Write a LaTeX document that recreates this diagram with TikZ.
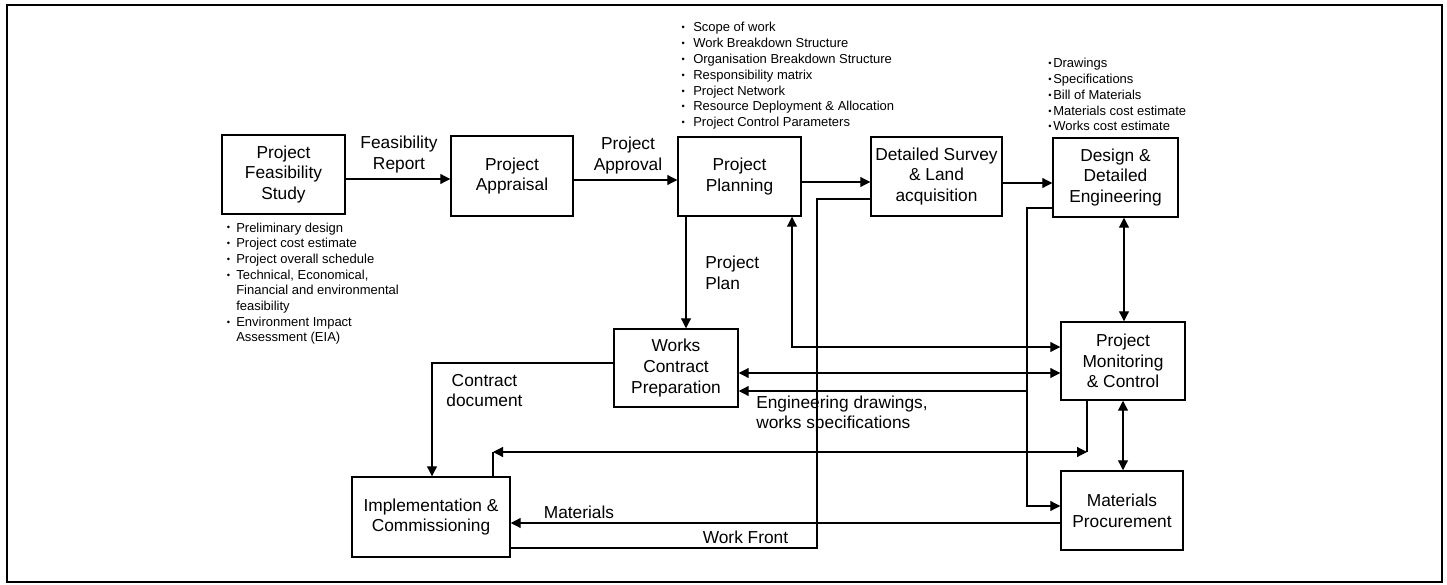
\documentclass[tikz,border=0pt]{standalone}
\usepackage{fontspec}
\setmainfont{Liberation Sans}
\usetikzlibrary{arrows.meta}
\newcommand{\bxfont}{\fontsize{13}{15.5}\selectfont}
\newcommand{\smfont}{\fontsize{9.75}{11.85}\selectfont}
\newcommand{\bul}{\raisebox{0.8pt}{\fontsize{7}{7}\selectfont •}}
\begin{document}
\begin{tikzpicture}[x=0.75pt,y=-0.75pt,
  box/.style={draw,line width=1.1pt,align=center,inner sep=2pt,font=\bxfont},
  lbl/.style={inner sep=0pt,font=\bxfont},
  item/.style={anchor=base west,inner sep=0pt,font=\smfont},
  conn/.style={line width=0.9pt},
  arr/.style={conn,-{Triangle[length=7.5pt,width=7.5pt]}},
  biarr/.style={conn,{Triangle[length=7.5pt,width=7.5pt]}-{Triangle[length=7.5pt,width=7.5pt]}}]
\useasboundingbox (0,0) rectangle (1447,585);
% outer frame
\draw[line width=1.5pt] (7,5) rectangle (1442,582);

% process boxes
\node[box,minimum width=92.25pt,minimum height=59.25pt] (PFS) at (283.5,174.5) {Project\\Feasibility\\Study};
\node[box,minimum width=91.5pt,minimum height=60pt] (PA) at (512,176) {Project\\Appraisal};
\node[box,minimum width=92.25pt,minimum height=59.25pt] (PP) at (739.5,176.5) {Project\\Planning};
\node[box,minimum width=98.25pt,minimum height=59.25pt] (DS) at (936.5,176.5) {Detailed Survey\\\& Land\\acquisition};
\node[box,minimum width=93.75pt,minimum height=59.25pt] (DDE) at (1115.5,177.5) {Design \&\\Detailed\\Engineering};
\node[box,minimum width=93pt,minimum height=58.5pt] (WCP) at (676,368) {Works\\Contract\\Preparation};
\node[box,minimum width=93pt,minimum height=58.5pt] (PMC) at (1123,361) {Project\\Monitoring\\\& Control};
\node[box,minimum width=91.5pt,minimum height=59.25pt] (MP) at (1122,510.5) {Materials\\Procurement};
\node[box,minimum width=118.5pt,minimum height=60pt] (IC) at (431,517) {Implementation \&\\Commissioning};

% bullet lists
\foreach \t [count=\i from 0] in {Scope of work,Work Breakdown Structure,Organisation Breakdown Structure,Responsibility matrix,Project Network,Resource Deployment \& Allocation,Project Control Parameters}
  \node[item] (top\i) at (693,{32+15.8*\i}) {\llap{\bul\hspace{6.2pt}}\t};
\foreach \t [count=\i from 0] in {Drawings,Specifications,Bill of Materials,Materials cost estimate,Works cost estimate}
  \node[item] (des\i) at (1053,{68+15.75*\i}) {\llap{\bul\hspace{1.2pt}}\t};
\node[item] (fs0) at (236,232) {\llap{\bul\hspace{4.6pt}}Preliminary design};
\node[item] (fs1) at (236,247.7) {\llap{\bul\hspace{4.6pt}}Project cost estimate};
\node[item] (fs2) at (236,263.4) {\llap{\bul\hspace{4.6pt}}Project overall schedule};
\node[item] (fs3) at (236,279.1) {\llap{\bul\hspace{4.6pt}}Technical, Economical,};
\node[item] (fs4) at (236,294.8) {Financial and environmental};
\node[item] (fs5) at (236,310.5) {feasibility};
\node[item] (fs6) at (236,326.2) {\llap{\bul\hspace{4.6pt}}Environment Impact};
\node[item] (fs7) at (236,341.9) {Assessment (EIA)};

% connector labels
\node[lbl,align=center] (lFR) at (399,154.5) {Feasibility\\Report};
\node[lbl,align=center] (lPA) at (628,155.5) {Project\\Approval};
\node[lbl,align=left,anchor=west] (lPL) at (705,273) {Project\\Plan};
\node[lbl,align=center] (lCD) at (484.5,390.5) {Contract\\document};
\node[lbl,align=left,anchor=west] (lED) at (756,414) {Engineering drawings,\\works specifications};
\node[lbl] (lMat) at (579,512) {Materials};
\node[lbl] (lWF) at (745.5,537) {Work Front};

% junction points
\coordinate (jPP) at (792,347);
\coordinate (jDE) at (1027,208);
\coordinate (jEW) at (1027,391);
\coordinate (jEM) at (1027,506);
\coordinate (jMR) at (1087,452);
\coordinate (jML) at (493,452);
\coordinate (jCD) at (432,363);
\coordinate (jWF) at (817,199);
\coordinate (jWB) at (817,548);

% main flow
\draw[arr] (PFS.east |- 0,179) -- (PA.west |- 0,179);
\draw[arr] (PA.east |- 0,180) -- (PP.west |- 0,180);
\draw[arr] (PP.east |- 0,182) -- (DS.west |- 0,182);
\draw[arr] (DS.east |- 0,183) -- (DDE.west |- 0,183);
\draw[arr] (PP.south -| 686,0) -- (WCP.north -| 686,0);

% monitoring links
\draw[biarr] (PP.south -| jPP) -- (jPP) -- (PMC.west |- jPP);
\draw[biarr] (WCP.east |- 0,373) -- (PMC.west |- 0,373);
\draw[biarr] (DDE.south -| 1124,0) -- (PMC.north -| 1124,0);
\draw[biarr] (PMC.south -| 1123,0) -- (MP.north -| 1123,0);

% engineering outputs
\draw[arr] (DDE.west |- jDE) -- (jDE) -- (jEM) -- (MP.west |- jEM);
\draw[arr] (jEW) -- (WCP.east |- jEW);

% control loop to implementation
\draw[conn] (PMC.south -| jMR) -- (jMR);
\draw[biarr] (jML) -- (jMR);
\draw[conn] (IC.north -| jML) -- (jML);

% contract, materials and work front
\draw[arr] (WCP.west |- jCD) -- (jCD) -- (IC.north -| jCD);
\draw[arr] (MP.west |- 0,523) -- (IC.east |- 0,523);
\draw[conn] (DS.west |- jWF) -- (jWF) -- (jWB) -- (IC.east |- jWB);
\end{tikzpicture}
\end{document}
